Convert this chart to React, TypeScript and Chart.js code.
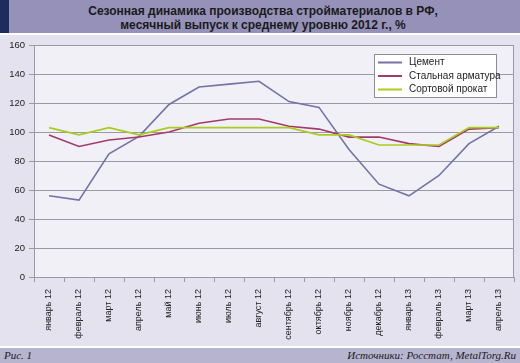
import React, { useEffect, useRef } from "react";
import { Chart, registerables } from "chart.js";

Chart.register(...registerables);

const months = [
  "январь 12", "февраль 12", "март 12", "апрель 12", "май 12", "июнь 12",
  "июль 12", "август 12", "сентябрь 12", "октябрь 12", "ноябрь 12", "декабрь 12",
  "январь 13", "февраль 13", "март 13", "апрель 13",
];
const cement = [56, 53, 85, 97, 119, 131, 133, 135, 121, 117, 88, 64, 56, 70, 92, 104];
const rebar = [98, 90, 94.5, 96.5, 100, 106, 109, 109, 104, 102, 96.5, 96.5, 92, 90, 102, 103];
const sections = [103, 98, 103, 98, 103, 103, 103, 103, 103, 98, 98, 91, 91, 91, 103, 103];
const seriesNames = ["Цемент", "Стальная арматура", "Сортовой прокат"];
const seriesColors = ["#7372a9", "#a33a6b", "#a9cc1f"];

const FONT = "'Liberation Sans', Arial, sans-serif";

const framePlugin = {
  id: "frame",
  beforeDraw(chart: any) {
    const { ctx, chartArea: a, width, height } = chart;
    ctx.save();
    ctx.fillStyle = "#e4e2ee";
    ctx.fillRect(0, 0, width, height);
    ctx.fillStyle = "#f1f0f6";
    ctx.fillRect(a.left, a.top, a.right - a.left, a.bottom - a.top);
    ctx.restore();
  },
  afterDatasetsDraw(chart: any) {
    const { ctx, chartArea: a } = chart;
    ctx.save();
    ctx.strokeStyle = "#9a9aa6";
    ctx.lineWidth = 1;
    ctx.beginPath();
    ctx.moveTo(a.right - 0.5, a.top);
    ctx.lineTo(a.right - 0.5, a.bottom);
    ctx.stroke();
    // legend
    const x = 374.5, y = 19.5, w = 122, h = 43;
    ctx.fillStyle = "#ffffff";
    ctx.fillRect(x, y, w, h);
    ctx.strokeStyle = "#8c8c96";
    ctx.strokeRect(x, y, w, h);
    ctx.font = `10px ${FONT}`;
    ctx.textBaseline = "middle";
    ctx.textAlign = "left";
    seriesNames.forEach((n, i) => {
      const ry = y + 8 + i * 13.5;
      ctx.strokeStyle = seriesColors[i];
      ctx.lineWidth = 2;
      ctx.beginPath();
      ctx.moveTo(378, ry);
      ctx.lineTo(402, ry);
      ctx.stroke();
      ctx.fillStyle = "#222";
      ctx.fillText(n, 409, ry);
    });
    ctx.restore();
  },
};

export default function App() {
  const ref = useRef<HTMLCanvasElement | null>(null);
  useEffect(() => {
    if (!ref.current) return;
    const datasets = [cement, rebar, sections].map((d, i) => ({
      label: seriesNames[i],
      data: d,
      borderColor: seriesColors[i],
      backgroundColor: seriesColors[i],
      borderWidth: 1.6,
      pointRadius: 0,
      tension: 0,
      fill: false,
    }));
    const chart = new Chart(ref.current, {
      type: "line",
      data: { labels: months, datasets: datasets.reverse() },
      options: {
        animation: false,
        responsive: false,
        maintainAspectRatio: false,
        layout: { padding: { top: 10, right: 6, left: 0, bottom: 0 } },
        plugins: { legend: { display: false }, title: { display: false }, tooltip: { enabled: false } },
        scales: {
          x: {
            offset: true,
            grid: { display: true, drawOnChartArea: false, offset: true, tickLength: 5, color: "#9a9aa6" },
            border: { display: true, color: "#9a9aa6" },
            ticks: {
              autoSkip: false,
              maxRotation: 90,
              minRotation: 90,
              padding: 7,
              color: "#222",
              font: { family: FONT, size: 9 },
            },
            afterFit(s: any) { s.height = 69; },
          },
          y: {
            min: 0,
            max: 160,
            grid: { color: "#9a9aa6", tickLength: 5 },
            border: { display: true, color: "#9a9aa6" },
            ticks: {
              stepSize: 20,
              padding: 4,
              color: "#222",
              font: { family: FONT, size: 9.5 },
            },
            afterFit(s: any) { s.width = 34; },
          },
        },
      },
      plugins: [framePlugin],
    });
    return () => chart.destroy();
  }, []);

  return (
    <div style={{ position: "fixed", left: 0, top: 0, width: 520, height: 363, background: "#ffffff", overflow: "hidden" }}>
      <div style={{ position: "absolute", left: 0, top: 0, width: 520, height: 33, background: "#9591b9" }}>
        <div style={{ position: "absolute", left: 0, top: 0, width: 9, height: 33, background: "#1d2b5e" }} />
        <div style={{ position: "absolute", left: 9, right: 0, top: 4, textAlign: "center", paddingRight: 3, fontFamily: FONT, fontWeight: "bold", fontSize: 12, lineHeight: "14px", color: "#1a1a1a" }}>
          Сезонная динамика производства стройматериалов в РФ,<br />
          месячный выпуск к среднему уровню 2012 г., %
        </div>
      </div>
      <canvas ref={ref} width={520} height={311} style={{ position: "absolute", left: 0, top: 35, width: 520, height: 311 }} />
      <div style={{ position: "absolute", left: 0, top: 348, width: 520, height: 15, background: "#b6b4ce", fontFamily: "'Liberation Serif', 'DejaVu Serif', serif", fontStyle: "italic", fontSize: 11, lineHeight: "15px", color: "#1a1a1a" }}>
        <span style={{ position: "absolute", left: 4, top: 0 }}>Рис. 1</span>
        <span style={{ position: "absolute", right: 4, top: 0 }}>Источники: Росстат, MetalTorg.Ru</span>
      </div>
    </div>
  );
}
